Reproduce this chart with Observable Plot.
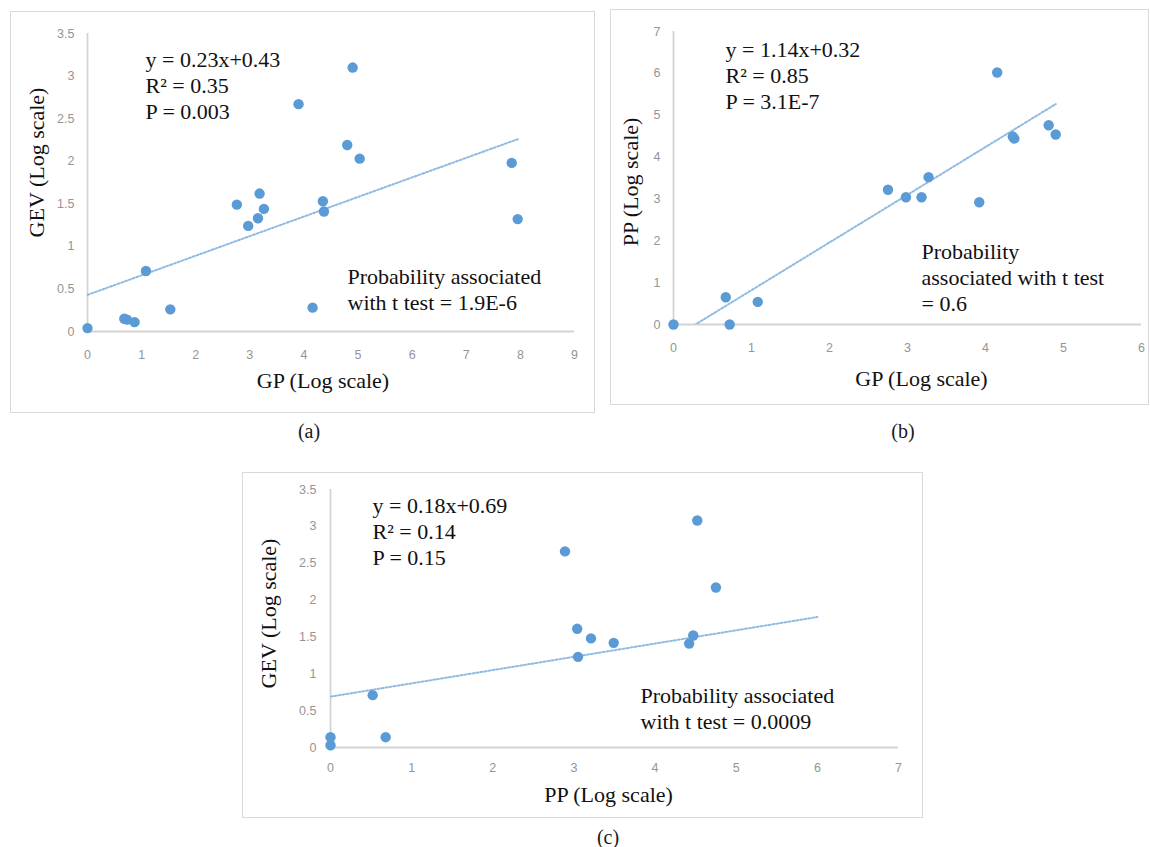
<!DOCTYPE html>
<html>
<head>
<meta charset="utf-8">
<script src="https://cdn.jsdelivr.net/npm/d3@7"></script>
<script src="https://cdn.jsdelivr.net/npm/@observablehq/plot@0.6"></script>
<style>
  html, body { margin: 0; padding: 0; background: #fff; }
  #fig { position: relative; width: 1150px; height: 847px; overflow: hidden; background: #fff; }
  .panel-box { position: absolute; box-sizing: border-box; border: 1.5px solid #d9d9d9; pointer-events: none; }
  .panel-svg { position: absolute; }
  .panel-tag { position: absolute; transform: translate(-50%, -50%); font-family: "Liberation Serif", serif; font-size: 20px; color: #1a1a1a; white-space: nowrap; }
</style>
</head>
<body>
<div id="fig"></div>
<script>
// ---- (a) GEV against GP ----
const gpA  = [0, 0.68, 0.73, 0.87, 1.08, 1.53, 2.76, 2.97, 3.15, 3.18, 3.26, 3.90, 4.16, 4.35, 4.37, 4.80, 4.90, 5.03, 7.84, 7.95];
const gevA = [0.04, 0.15, 0.14, 0.11, 0.71, 0.26, 1.49, 1.24, 1.33, 1.62, 1.44, 2.67, 0.28, 1.53, 1.41, 2.19, 3.10, 2.03, 1.98, 1.32];
const trendA = [0.23, 0.43];          // slope, intercept
const trendRangeA = [0, 7.95];
const xTicksA = [0, 1, 2, 3, 4, 5, 6, 7, 8, 9];
const yTicksA = [0, 0.5, 1, 1.5, 2, 2.5, 3, 3.5];
const statsA = ["y = 0.23x+0.43", "R² = 0.35", "P = 0.003"];
const noteA = ["Probability associated", "with t test = 1.9E-6"];

// ---- (b) PP against GP ----
const gpB = [0, 0.67, 0.72, 1.08, 2.75, 2.98, 3.18, 3.27, 3.92, 4.15, 4.35, 4.37, 4.81, 4.90];
const ppB = [0, 0.65, 0, 0.54, 3.22, 3.04, 3.04, 3.52, 2.92, 6.02, 4.49, 4.44, 4.76, 4.54];
const trendB = [1.14, -0.32];
const trendRangeB = [0, 4.9];
const xTicksB = [0, 1, 2, 3, 4, 5, 6];
const yTicksB = [0, 1, 2, 3, 4, 5, 6, 7];
const statsB = ["y = 1.14x+0.32", "R² = 0.85", "P = 3.1E-7"];
const noteB = ["Probability", "associated with t test", "= 0.6"];

// ---- (c) GEV against PP ----
const ppC  = [0, 0, 0.52, 0.68, 2.89, 3.04, 3.05, 3.21, 3.49, 4.42, 4.47, 4.52, 4.75];
const gevC = [0.14, 0.03, 0.71, 0.14, 2.66, 1.61, 1.23, 1.48, 1.42, 1.41, 1.52, 3.08, 2.17];
const trendC = [0.18, 0.69];
const trendRangeC = [0, 6];
const xTicksC = [0, 1, 2, 3, 4, 5, 6, 7];
const yTicksC = [0, 0.5, 1, 1.5, 2, 2.5, 3, 3.5];
const statsC = ["y = 0.18x+0.69", "R² = 0.14", "P = 0.15"];
const noteC = ["Probability associated", "with t test = 0.0009"];

const SERIF = "'Liberation Serif', 'Times New Roman', serif";
const SANS = "'Liberation Sans', Arial, sans-serif";
const fig = document.getElementById("fig");

function zip(xs, ys) { return xs.map((x, i) => ({x, y: ys[i]})); }
function trendLine([m, b], range) { return range.map(x => ({x, y: m * x + b})); }

function panel(cfg) {
  const {box, margin, xDomain, yDomain, xTicks, yTicks, xPad, yPad, points, trend,
         xTitle, yTitle, xTitleAt, yTitleAt, stats, statsAt, note, noteAt, tag, tagAt} = cfg;
  const [left, top, width, height] = box;
  const chart = Plot.plot({
    width, height,
    marginTop: margin[0], marginRight: margin[1], marginBottom: margin[2], marginLeft: margin[3],
    style: {background: "transparent", overflow: "visible", fontFamily: SANS},
    x: {domain: xDomain},
    y: {domain: yDomain},
    marks: [
      Plot.ruleY([0], {stroke: "#d4d4d4", strokeWidth: 1.8}),
      Plot.ruleX([0], {stroke: "#d4d4d4", strokeWidth: 1.8}),
      Plot.axisX(xTicks, {tickSize: 0, tickPadding: xPad, tickFormat: d => String(d), fontSize: 12.5, color: "#959595", label: null}),
      Plot.axisY(yTicks, {tickSize: 0, tickPadding: yPad, tickFormat: d => String(d), fontSize: 12.5, color: "#959595", label: null}),
      // dotted trend line
      Plot.line(trend, {x: "x", y: "y", stroke: "#8fbbe3", strokeWidth: 2, strokeDasharray: "2 2", clip: true}),
      Plot.dot(points, {x: "x", y: "y", r: 5.2, fill: "#5b9bd5", stroke: "none"}),
      Plot.text([xTitle], {text: d => d, frameAnchor: "bottom", dx: xTitleAt[0], dy: xTitleAt[1],
        lineAnchor: "middle", fontFamily: SERIF, fontSize: 22, fill: "#111"}),
      Plot.text([yTitle], {text: d => d, frameAnchor: "left", dx: yTitleAt[0], dy: yTitleAt[1], rotate: -90,
        lineAnchor: "middle", textAnchor: "middle", fontFamily: SERIF, fontSize: 22, fill: "#111"}),
      Plot.text([stats.join("\n")], {text: d => d, frameAnchor: "top-left", dx: statsAt[0], dy: statsAt[1],
        textAnchor: "start", lineAnchor: "middle", lineHeight: 1.2, fontFamily: SERIF, fontSize: 22, fill: "#111"}),
      Plot.text([note.join("\n")], {text: d => d, frameAnchor: "top-left", dx: noteAt[0], dy: noteAt[1],
        textAnchor: "start", lineAnchor: "middle", lineHeight: 1.2, fontFamily: SERIF, fontSize: 22, fill: "#111"})
    ]
  });
  chart.classList.add("panel-svg");
  chart.style.left = left + "px";
  chart.style.top = top + "px";
  fig.appendChild(chart);

  const frame = document.createElement("div");
  frame.className = "panel-box";
  Object.assign(frame.style, {left: left + "px", top: top + "px", width: width + "px", height: height + "px"});
  fig.appendChild(frame);

  const label = document.createElement("div");
  label.className = "panel-tag";
  label.textContent = tag;
  label.style.left = tagAt[0] + "px";
  label.style.top = tagAt[1] + "px";
  fig.appendChild(label);
}

panel({
  box: [10, 11, 585, 402], margin: [22, 21, 82, 77],
  xDomain: [0, 9], yDomain: [0, 3.5], xTicks: xTicksA, yTicks: yTicksA, xPad: 19, yPad: 13,
  points: zip(gpA, gevA), trend: trendLine(trendA, trendRangeA),
  xTitle: "GP (Log scale)", yTitle: "GEV (Log scale)",
  xTitleAt: [-8, 49], yTitleAt: [-51, -20],
  stats: statsA, statsAt: [58, 51], note: noteA, noteAt: [260, 255],
  tag: "(a)", tagAt: [309, 431]
});

panel({
  box: [610, 9, 539, 396], margin: [22, 8, 81, 63],
  xDomain: [0, 6], yDomain: [0, 7], xTicks: xTicksB, yTicks: yTicksB, xPad: 19, yPad: 13,
  points: zip(gpB, ppB), trend: trendLine(trendB, trendRangeB),
  xTitle: "GP (Log scale)", yTitle: "PP (Log scale)",
  xTitleAt: [14, 54], yTitleAt: [-43, 4],
  stats: statsB, statsAt: [52, 43], note: noteB, noteAt: [248, 245],
  tag: "(b)", tagAt: [903, 431]
});

panel({
  box: [242, 472, 681, 346], margin: [17, 25, 71, 88],
  xDomain: [0, 7], yDomain: [0, 3.5], xTicks: xTicksC, yTicks: yTicksC, xPad: 16, yPad: 14,
  points: zip(ppC, gevC), trend: trendLine(trendC, trendRangeC),
  xTitle: "PP (Log scale)", yTitle: "GEV (Log scale)",
  xTitleAt: [-6, 47], yTitleAt: [-62, -5],
  stats: statsC, statsAt: [42, 41], note: noteC, noteAt: [310, 218],
  tag: "(c)", tagAt: [608, 837]
});
</script>
</body>
</html>
